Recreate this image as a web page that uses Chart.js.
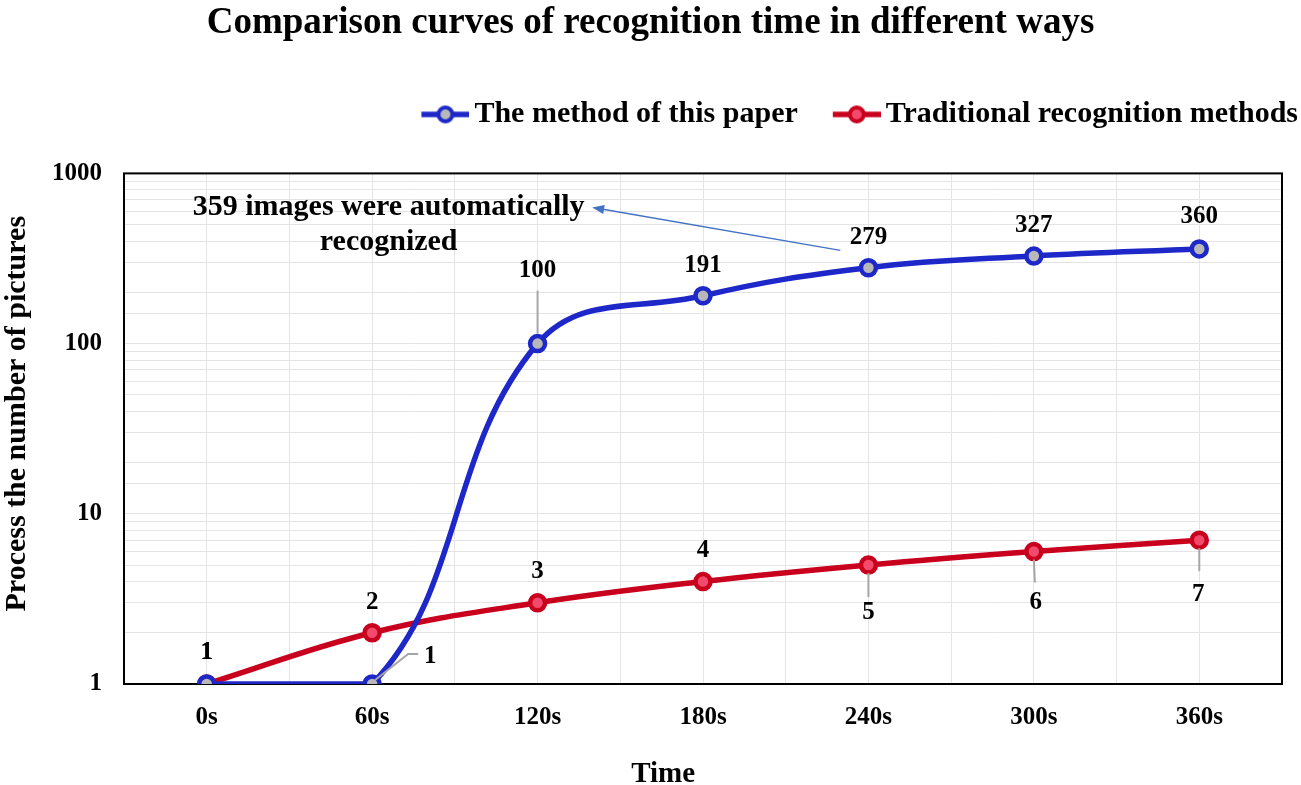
<!DOCTYPE html>
<html>
<head>
<meta charset="utf-8">
<script src="https://cdn.jsdelivr.net/npm/chart.js@4.4.0/dist/chart.umd.min.js"></script>
<style>
  html, body { margin: 0; padding: 0; background: #fff; }
  #wrap { width: 1301px; height: 785px; }
</style>
</head>
<body>
<div id="wrap"><canvas id="grafico"></canvas></div>
<script>
// datos
const timeLabels = ['0s', '60s', '120s', '180s', '240s', '300s', '360s'];
const paperMethod = [1, 1, 100, 191, 279, 327, 360];
const traditionalMethod = [1, 2, 3, 4, 5, 6, 7];
const yTickLabels = [1, 10, 100, 1000];
const seriesNames = ['The method of this paper', 'Traditional recognition methods'];

const BLUE = '#1e28c8';
const BLUE_FILL = '#b8b8b8';
const RED = '#c8001e';
const RED_FILL = '#f24a6a';
const LEADER = '#a6a6a6';
const SERIF = "'Liberation Serif', 'Times New Roman', serif";

Chart.defaults.font.family = SERIF;
Chart.defaults.font.weight = 'bold';
Chart.defaults.color = '#000';

// donde va cada etiqueta respecto a su punto (px)
const labelPlacement = [
  [
    { dx: 0, dy: -31 },
    { dx: 58, dy: -27, leader: [[3, -4], [36, -30], [46, -30]] },
    { dx: 0, dy: -73, leader: [[0, -10], [0, -53]] },
    { dx: 0, dy: -30 },
    { dx: 0, dy: -30 },
    { dx: 0, dy: -30 },
    { dx: 0, dy: -32 }
  ],
  [
    { dx: 0, dy: -31 },
    { dx: 0, dy: -30 },
    { dx: 0, dy: -31 },
    { dx: 0, dy: -31 },
    { dx: 0, dy: 48, leader: [[0, 8], [0, 32]] },
    { dx: 2, dy: 51, leader: [[0, 8], [1, 31]] },
    { dx: -1, dy: 54, leader: [[0, 8], [0, 31]] }
  ]
];

// icono de leyenda: linea con circulo (90 px de ancho, la marca ocupa los ultimos 48)
function crearIcono(linea, relleno) {
  const c = document.createElement('canvas');
  c.width = 90;
  c.height = 22;
  const g = c.getContext('2d');
  g.strokeStyle = linea;
  g.lineWidth = 5.5;
  g.beginPath();
  g.moveTo(42, 11);
  g.lineTo(90, 11);
  g.stroke();
  g.beginPath();
  g.arc(66, 11, 7, 0, Math.PI * 2);
  g.fillStyle = relleno;
  g.fill();
  g.lineWidth = 4;
  g.stroke();
  return c;
}
const legendIcons = [crearIcono(BLUE, BLUE_FILL), crearIcono(RED, RED_FILL)];

const marcoPlugin = {
  id: 'marco',
  beforeDatasetsDraw(chart) {
    const a = chart.chartArea;
    const ctx = chart.ctx;
    ctx.save();
    ctx.strokeStyle = '#000';
    ctx.lineWidth = 2;
    ctx.strokeRect(a.left, a.top, a.right - a.left, a.bottom - a.top);
    ctx.restore();
  }
};

const etiquetasPlugin = {
  id: 'etiquetas',
  afterDatasetsDraw(chart) {
    const ctx = chart.ctx;
    ctx.save();
    chart.data.datasets.forEach((ds, d) => {
      const meta = chart.getDatasetMeta(d);
      meta.data.forEach((pt, i) => {
        const p = labelPlacement[d][i];
        if (p.leader) {
          ctx.strokeStyle = LEADER;
          ctx.lineWidth = 2;
          ctx.beginPath();
          p.leader.forEach((q, k) => {
            if (k === 0) ctx.moveTo(pt.x + q[0], pt.y + q[1]);
            else ctx.lineTo(pt.x + q[0], pt.y + q[1]);
          });
          ctx.stroke();
        }
        ctx.fillStyle = '#000';
        ctx.font = 'bold 25px ' + SERIF;
        ctx.textAlign = 'center';
        ctx.textBaseline = 'middle';
        ctx.fillText(String(ds.data[i].y), pt.x + p.dx, pt.y + p.dy);
      });
    });
    ctx.restore();
  }
};

const notaPlugin = {
  id: 'nota',
  afterDatasetsDraw(chart) {
    const ctx = chart.ctx;
    const x = chart.scales.x;
    const y = chart.scales.y;
    ctx.save();
    ctx.fillStyle = '#000';
    ctx.font = 'bold 30px ' + SERIF;
    ctx.textAlign = 'center';
    ctx.textBaseline = 'middle';
    ctx.fillText('359 images were automatically', x.getPixelForValue(1.1), y.getPixelForValue(631));
    ctx.fillText('recognized', x.getPixelForValue(1.1), y.getPixelForValue(394));

    // flecha
    const x0 = x.getPixelForValue(3.83), y0 = y.getPixelForValue(353);
    const x1 = x.getPixelForValue(2.33), y1 = y.getPixelForValue(631);
    const ang = Math.atan2(y1 - y0, x1 - x0);
    ctx.strokeStyle = '#4472c4';
    ctx.fillStyle = '#4472c4';
    ctx.lineWidth = 1.5;
    ctx.beginPath();
    ctx.moveTo(x0, y0);
    ctx.lineTo(x1 - 8 * Math.cos(ang), y1 - 8 * Math.sin(ang));
    ctx.stroke();
    ctx.beginPath();
    ctx.moveTo(x1, y1);
    ctx.lineTo(x1 - 12 * Math.cos(ang) + 4.5 * Math.sin(ang), y1 - 12 * Math.sin(ang) - 4.5 * Math.cos(ang));
    ctx.lineTo(x1 - 12 * Math.cos(ang) - 4.5 * Math.sin(ang), y1 - 12 * Math.sin(ang) + 4.5 * Math.cos(ang));
    ctx.closePath();
    ctx.fill();
    ctx.restore();
  }
};

const ctx = document.getElementById('grafico').getContext('2d');
const grafico = new Chart(ctx, {
  type: 'line',
  data: {
    datasets: [
      {
        label: seriesNames[0],
        data: paperMethod.map((v, i) => ({ x: i, y: v })),
        borderColor: BLUE,
        backgroundColor: BLUE_FILL,
        borderWidth: 5.5,
        pointRadius: 7.5,
        pointBorderWidth: 4.5,
        pointBackgroundColor: BLUE_FILL,
        pointBorderColor: BLUE,
        tension: 0.4,
        fill: false
      },
      {
        label: seriesNames[1],
        data: traditionalMethod.map((v, i) => ({ x: i, y: v })),
        borderColor: RED,
        backgroundColor: RED_FILL,
        borderWidth: 5.5,
        pointRadius: 7.5,
        pointBorderWidth: 4.5,
        pointBackgroundColor: RED_FILL,
        pointBorderColor: RED,
        tension: 0.4,
        fill: false
      }
    ]
  },
  options: {
    responsive: true,
    maintainAspectRatio: false,
    animation: false,
    layout: { padding: 0 },
    plugins: {
      title: {
        display: true,
        text: 'Comparison curves of recognition time in different ways',
        font: { size: 37, weight: 'bold' },
        color: '#000',
        padding: { top: 1, bottom: 51 }
      },
      legend: {
        position: 'top',
        align: 'end',
        labels: {
          usePointStyle: true,
          pointStyleWidth: 70,
          padding: 3,
          color: '#000',
          font: { size: 30, weight: 'bold' },
          generateLabels(chart) {
            return chart.data.datasets.map((ds, i) => ({
              text: ds.label,
              pointStyle: legendIcons[i],
              fillStyle: ds.backgroundColor,
              strokeStyle: ds.borderColor,
              lineWidth: 0,
              hidden: false,
              datasetIndex: i
            }));
          }
        }
      },
      tooltip: { enabled: false }
    },
    scales: {
      x: {
        type: 'linear',
        min: -0.5,
        max: 6.5,
        grid: { color: '#e4e4e4', lineWidth: 1, drawTicks: false },
        border: { display: false },
        ticks: {
          stepSize: 0.5,
          autoSkip: false,
          maxRotation: 0,
          padding: 19,
          font: { size: 25, weight: 'bold' },
          callback: v => Number.isInteger(v) ? timeLabels[v] : ''
        },
        title: {
          display: true,
          text: 'Time           ',
          font: { size: 29, weight: 'bold', lineHeight: 1 },
          padding: { top: 0, bottom: -4 }
        },
        afterFit: s => { s.height = 101; }
      },
      y: {
        type: 'logarithmic',
        min: 1,
        max: 1000,
        grid: { color: '#e4e4e4', lineWidth: 1, drawTicks: false },
        border: { display: false },
        ticks: {
          autoSkip: false,
          padding: 22,
          font: { size: 25, weight: 'bold' },
          callback: v => yTickLabels.includes(v) ? String(v) : ''
        },
        title: {
          display: true,
          text: '    Process the number of pictures',
          font: { size: 30, weight: 'bold', lineHeight: 1 },
          padding: { top: 2, bottom: 0 }
        },
        afterFit: s => { s.width = 124; }
      },
      margenArriba: {
        axis: 'x',
        type: 'linear',
        position: 'top',
        grid: { display: false, drawTicks: false },
        border: { display: false },
        ticks: { display: false },
        afterFit: s => { s.height = 34; }
      },
      margenDerecha: {
        axis: 'y',
        type: 'linear',
        position: 'right',
        grid: { display: false, drawTicks: false },
        border: { display: false },
        ticks: { display: false },
        afterFit: s => { s.width = 19; }
      }
    }
  },
  plugins: [marcoPlugin, etiquetasPlugin, notaPlugin]
});
</script>
</body>
</html>
